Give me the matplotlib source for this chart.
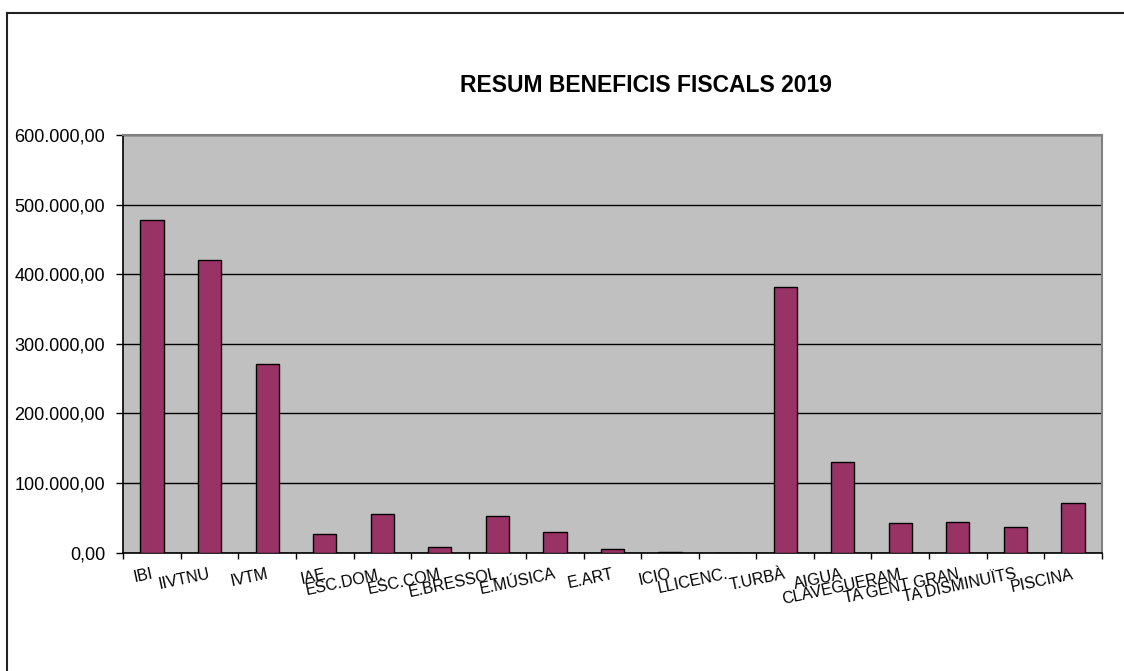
import matplotlib
matplotlib.use("Agg")
import matplotlib.pyplot as plt
from matplotlib.ticker import FuncFormatter, FixedLocator
from matplotlib.lines import Line2D
import matplotlib.transforms as mtransforms
import numpy as np

plt.rcParams['font.family'] = ['Liberation Sans', 'DejaVu Sans']

title = "RESUM BENEFICIS FISCALS 2019"
categories = ["IBI", "IIVTNU", "IVTM", "IAE", "ESC.DOM.", "ESC.COM", "E.BRESSOL",
              "E.MÚSICA", "E.ART", "ICIO", "LLICENC.", "T.URBÀ", "AIGUA",
              "CLAVEGUERAM", "TA GENT GRAN", "TA DISMINUÏTS", "PISCINA"]
values = [478500, 420500, 271500, 26200, 55000, 8300, 52500,
          30000, 6000, 1500, 0, 382000, 130500,
          42300, 44600, 36500, 71000]
yticks = [0, 100000, 200000, 300000, 400000, 500000, 600000]

W, H = 1124, 671
fig = plt.figure(figsize=(W / 100, H / 100), dpi=100)
fig.patch.set_facecolor('white')

left, right, top, bottom = 123.3, 1101.7, 135, 552.7
ax = fig.add_axes([left / W, 1 - bottom / H, (right - left) / W, (bottom - top) / H])
ax.set_facecolor('#C0C0C0')

x = np.arange(len(categories))
ax.bar(x, values, width=0.405, color='#993366', edgecolor='black', linewidth=1.0, zorder=3)

ax.set_xlim(-0.5, len(categories) - 0.5)
ax.set_ylim(0, 600000)
ax.set_yticks(yticks)
ax.yaxis.set_major_formatter(FuncFormatter(
    lambda v, p: f"{v:,.2f}".replace(",", "X").replace(".", ",").replace("X", ".")))
ax.grid(axis='y', color='black', linewidth=1.0, zorder=1)
ax.set_axisbelow(True)

ax.set_xticks(x)
ax.set_xticklabels(categories, rotation=12, ha='right', va='top', rotation_mode='anchor', fontsize=11.5)
ax.xaxis.set_minor_locator(FixedLocator(np.arange(-0.5, len(categories), 1.0)))
ax.tick_params(axis='x', which='major', length=0, pad=10)
ax.tick_params(axis='x', which='minor', length=4, width=1.0, color='black', direction='out')
ax.tick_params(axis='y', which='major', length=5, width=1.0, color='black', direction='out',
               labelsize=13, pad=8)

offset = mtransforms.ScaledTranslation(-1 / 100, 0, fig.dpi_scale_trans)
for lab in ax.get_xticklabels():
    lab.set_transform(lab.get_transform() + offset)

for s in ['top', 'right']:
    ax.spines[s].set_color('#808080')
    ax.spines[s].set_linewidth(1.5)
for s in ['left', 'bottom']:
    ax.spines[s].set_color('black')
    ax.spines[s].set_linewidth(1.2)

fig.text(646 / W, 1 - 86 / H, title, ha='center', va='center', fontsize=16.5, fontweight='bold')

# outer frame (top and left edges)
fig.add_artist(Line2D([7 / W, 1.0], [1 - 12.5 / H, 1 - 12.5 / H], transform=fig.transFigure,
                      color='#222222', linewidth=1.5))
fig.add_artist(Line2D([7 / W, 7 / W], [1 - 12.5 / H, 0.0], transform=fig.transFigure,
                      color='#222222', linewidth=1.5))

fig.savefig("out.png", dpi=100)
